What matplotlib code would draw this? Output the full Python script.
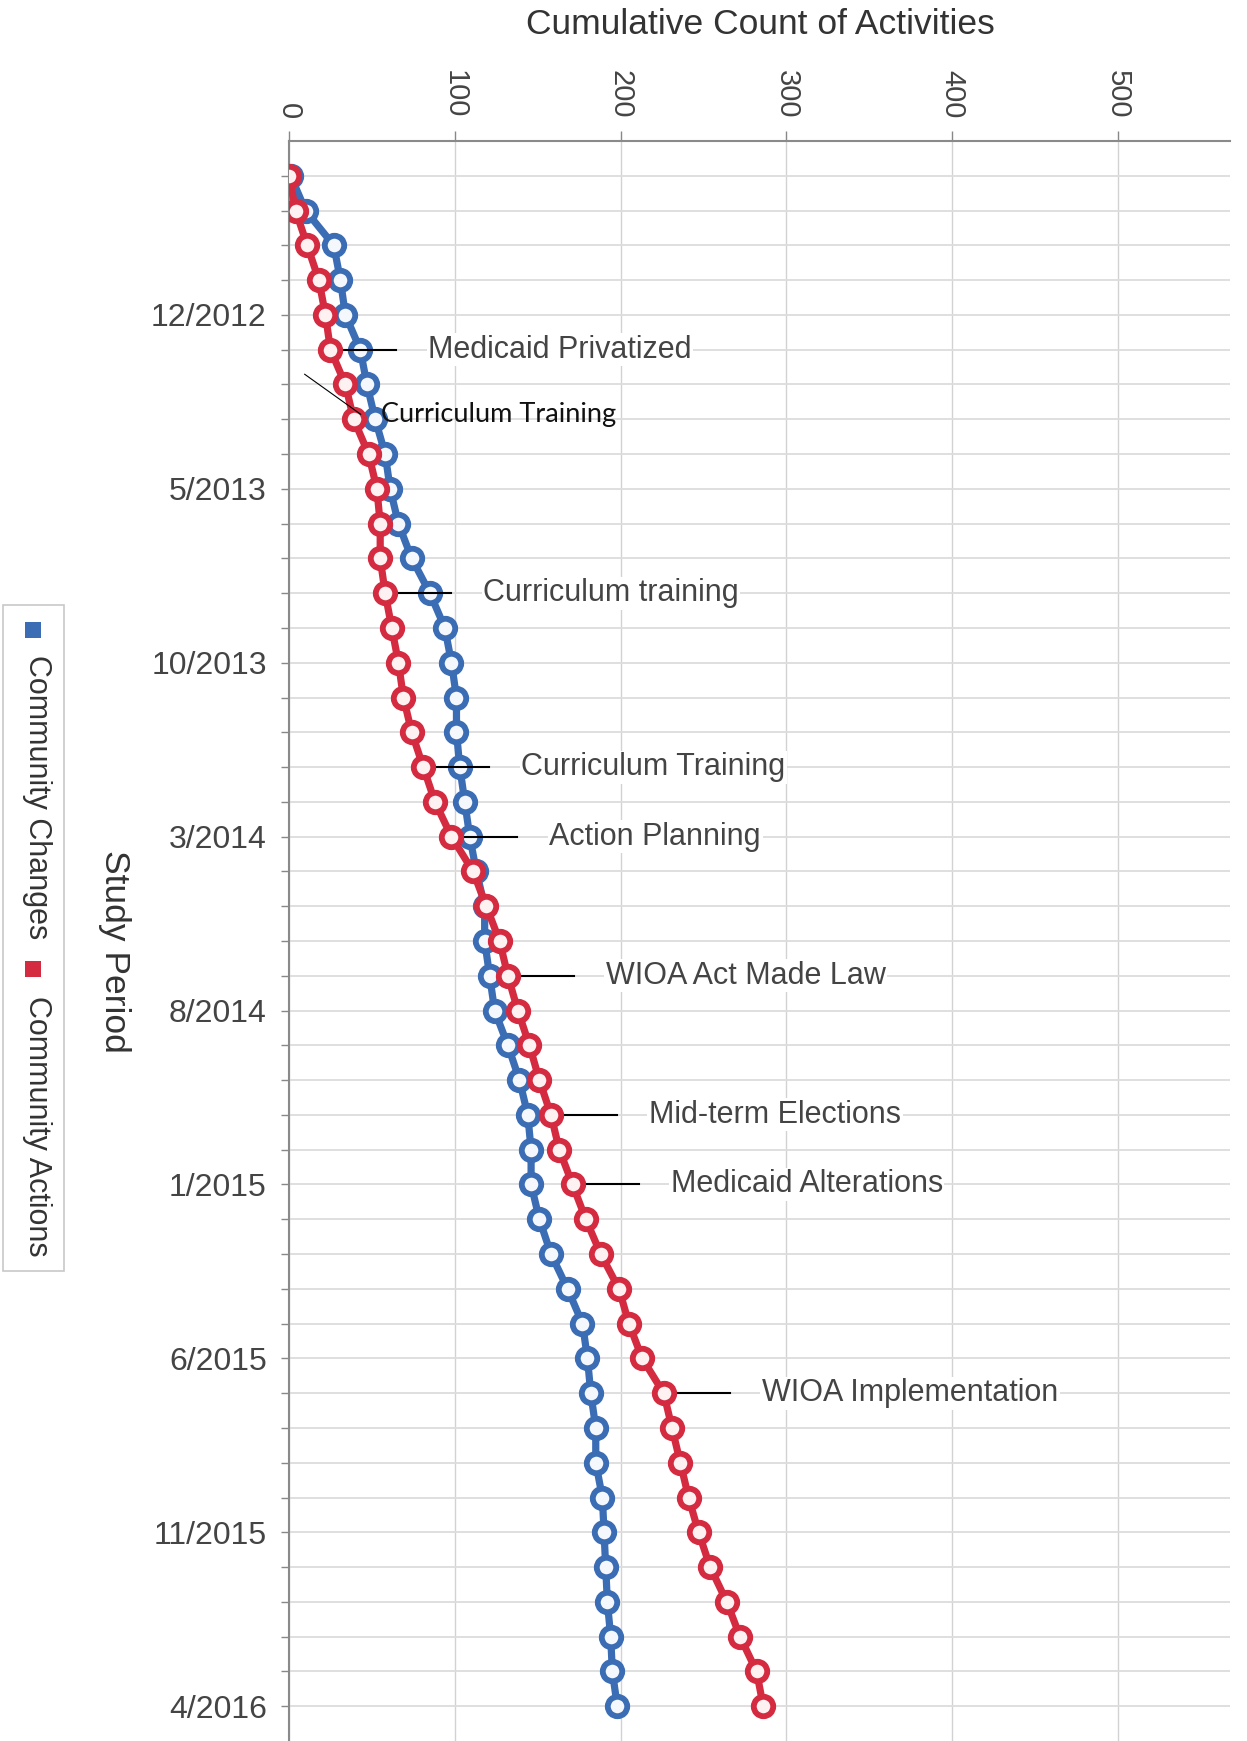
import numpy as np
import pandas as pd
import matplotlib
matplotlib.use("Agg")
import matplotlib.pyplot as plt
from matplotlib.patches import Rectangle

# study months, one row per month (8/2012 .. 4/2016)
months = pd.period_range("2012-08", "2016-04", freq="M")
month_labels = [f"{p.month}/{p.year}" for p in months]

# cumulative counts
changes = [1, 10, 27, 31, 34, 43, 47, 52, 58, 61,
           66, 74, 85, 94, 98, 101, 101, 103, 106, 109,
           113, 118, 118, 121, 124, 132, 139, 144, 146, 146,
           151, 158, 168, 177, 180, 182, 185, 185, 189, 190,
           191, 192, 194, 195, 198]
actions = [0, 4, 11, 18, 22, 25, 34, 39, 48, 53,
           55, 55, 58, 62, 66, 69, 74, 81, 88, 98,
           111, 119, 127, 132, 138, 145, 151, 158, 163, 171,
           179, 188, 199, 205, 213, 226, 231, 236, 241, 247,
           254, 264, 272, 282, 286]

events = ["Medicaid Privatized", "Curriculum training", "Curriculum Training",
          "Action Planning", "WIOA Act Made Law", "Mid-term Elections",
          "Medicaid Alterations", "WIOA Implementation"]
event_rows = [5, 12, 17, 19, 23, 27, 29, 35]
extra_note = "Curriculum Training"
extra_row = 7

BLUE = "#3b6db5"
RED = "#d52b40"

plt.rcParams["font.family"] = ["Liberation Sans", "DejaVu Sans"]

W, H = 1247, 1741
fig = plt.figure(figsize=(W / 100, H / 100), dpi=100)
ax = fig.add_axes([289 / W, 0, (1230 - 289) / W, (H - 141) / H])

rows = np.arange(len(months))
ax.plot(changes, rows, color=BLUE, lw=5.2, marker="o", ms=14, mew=4.2,
        mfc="#f4f7fc", mec=BLUE, zorder=3)
ax.plot(actions, rows, color=RED, lw=5.2, marker="o", ms=14, mew=4.2,
        mfc="#fdf1f2", mec=RED, zorder=4)

ax.set_xlim(0, 567.5)
ax.set_ylim(len(months), -1)

ax.xaxis.tick_top()
ax.set_xticks(range(0, 501, 100))
ax.set_xticklabels([str(v) for v in range(0, 501, 100)], rotation=-90)
ax.tick_params(axis="x", length=7, width=1, color="#888888", pad=9,
               labelsize=21, labelcolor="#444444")
ax.set_yticks(rows)
ax.set_yticklabels([lab if (i - 4) % 5 == 0 else "" for i, lab in enumerate(month_labels)])
ax.tick_params(axis="y", length=6, width=1, color="#888888", pad=10,
               labelsize=23, labelcolor="#444444")

ax.set_axisbelow(True)
ax.grid(axis="y", color="#dcdcdc", lw=1.3)
ax.grid(axis="x", color="#d2d2d2", lw=1)
for s in ["right", "bottom"]:
    ax.spines[s].set_visible(False)
for s in ["top", "left"]:
    ax.spines[s].set_color("#8a8a8a")
    ax.spines[s].set_linewidth(1.5)


def shifted(x, y, dx, dy):
    px, py = ax.transData.transform((x, y))
    return ax.transData.inverted().transform((px + dx, py + dy))


for label, r in zip(events, event_rows):
    v = actions[r]
    x0, _ = shifted(v, r, 14, 0)
    x1, _ = shifted(v, r, 66, 0)
    ax.plot([x0, x1], [r, r], color="black", lw=1.5, zorder=5)
    ax.annotate(label, xy=(v, r), xytext=(98, 0), textcoords="offset pixels",
                ha="left", va="center", fontsize=22, color="#444444", zorder=5,
                bbox=dict(fc="white", ec="none", pad=1))

# hand-drawn note
v = actions[extra_row]
a = shifted(v, extra_row, -49, 45)
b = shifted(v, extra_row, 7, 5)
ax.plot([a[0], b[0]], [a[1], b[1]], color="black", lw=0.8, zorder=6)
ax.annotate(extra_note, xy=(v, extra_row), xytext=(27, 5), textcoords="offset pixels",
            ha="left", va="center", fontsize=19.5, color="#111111", zorder=6,
            family=["Lato", "DejaVu Sans"])


def fx(x):
    return x / W


def fy(y):
    return 1 - y / H


fig.text(fx(760), fy(24), "Cumulative Count of Activities", ha="center", va="center",
         fontsize=25.5, color="#333333")
fig.text(fx(114), fy(951), "Study Period", rotation=-90, ha="center", va="center",
         fontsize=25.5, color="#333333")

# legend, drawn rotated like the rest of the chart
fig.add_artist(Rectangle((fx(3), fy(1271)), fx(64) - fx(3), (1271 - 605) / H,
                         transform=fig.transFigure, fill=False, ec="#c8c8c8", lw=1.2))
fig.add_artist(Rectangle((fx(25), fy(638)), 16 / W, 16 / H, transform=fig.transFigure,
                         fc=BLUE, ec="none"))
fig.text(fx(37), fy(655), "Community Changes", rotation=-90, ha="center", va="top",
         fontsize=22, color="#333333")
fig.add_artist(Rectangle((fx(25), fy(977)), 16 / W, 16 / H, transform=fig.transFigure,
                         fc=RED, ec="none"))
fig.text(fx(37), fy(996), "Community Actions", rotation=-90, ha="center", va="top",
         fontsize=22, color="#333333")

fig.savefig("out.png", dpi=100)
